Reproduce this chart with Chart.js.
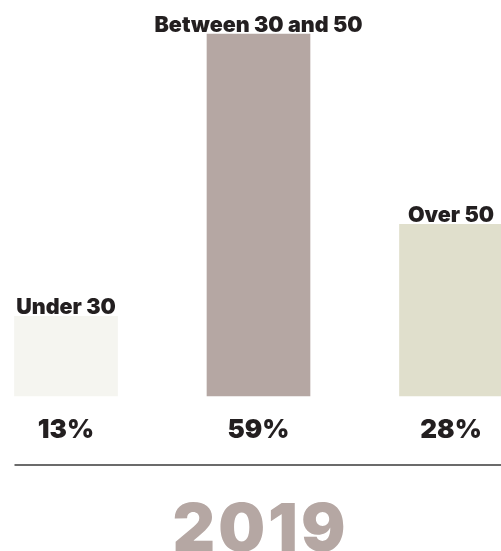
<!DOCTYPE html>
<html>
<head>
<meta charset="utf-8">
<title>Age split 2019</title>
<script src="https://cdn.jsdelivr.net/npm/chart.js@4/dist/chart.umd.min.js"></script>
<style>
  html, body { margin: 0; padding: 0; background: #fff; }
  #wrap { width: 501px; height: 551px; }
</style>
</head>
<body>
<div id="wrap"><canvas id="ageChart" width="501" height="551"></canvas></div>
<script>
// chart data
var categories = ['Under 30', 'Between 30 and 50', 'Over 50'];
var shares = [13, 59, 28];
var barColors = ['#f5f5f0', '#b5a7a3', '#e0dfcc'];
var yearLabel = '2019';

// writes the names over the bars, the percentages under them, the rule and the year
var labelsPlugin = {
  id: 'barLabels',
  afterDatasetsDraw: function(chart) {
    var ctx = chart.ctx;
    var area = chart.chartArea;
    var bars = chart.getDatasetMeta(0).data;

    ctx.save();
    ctx.fillStyle = '#231f20';
    ctx.textAlign = 'center';
    bars.forEach(function(bar, i) {
      ctx.font = '900 21.5px Inter';
      ctx.textBaseline = 'alphabetic';
      ctx.fillText(categories[i], bar.x, bar.y - 2);

      ctx.font = '900 26px Inter';
      ctx.textBaseline = 'middle';
      ctx.fillText(shares[i] + '%', bar.x, area.bottom + 34);
    });

    var left = bars[0].x - bars[0].width / 2;
    ctx.strokeStyle = '#3a3a3a';
    ctx.lineWidth = 1.5;
    ctx.beginPath();
    ctx.moveTo(left, area.bottom + 69);
    ctx.lineTo(chart.width, area.bottom + 69);
    ctx.stroke();

    // year, under the middle bar
    ctx.fillStyle = '#b5a7a3';
    ctx.font = '900 66px Inter';
    ctx.letterSpacing = '3px';
    ctx.textBaseline = 'alphabetic';
    ctx.fillText(yearLabel, bars[1].x + 2, chart.height);
    ctx.restore();
  }
};

var ctx = document.getElementById('ageChart');
var ageChart = new Chart(ctx, {
  type: 'bar',
  data: {
    labels: categories,
    datasets: [{
      data: shares,
      backgroundColor: barColors,
      borderWidth: 0,
      barThickness: 103,
      clip: false
    }]
  },
  options: {
    responsive: false,
    animation: false,
    layout: {
      padding: { left: 66, right: 50, top: 28, bottom: 155 }
    },
    plugins: {
      legend: { display: false },
      tooltip: { enabled: false }
    },
    scales: {
      x: { type: 'category', offset: false, display: false },
      y: { min: 0, max: 60, display: false }
    }
  },
  plugins: [labelsPlugin]
});
</script>
</body>
</html>
